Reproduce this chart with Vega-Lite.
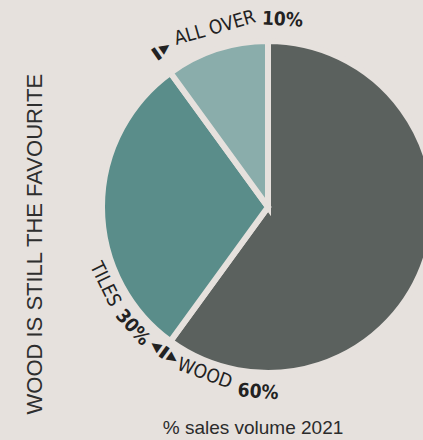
{
  "$schema": "https://vega.github.io/schema/vega-lite/v6.json",
  "autosize": "none",
  "width": 310,
  "height": 414,
  "padding": {"left": 113, "top": 0, "right": 0, "bottom": 26},
  "background": "#e6e1dd",
  "config": {"view": {"stroke": null}},
  "title": {"text": "% sales volume 2021", "orient": "bottom", "anchor": "middle", "dx": -15, "offset": 5, "font": "Liberation Sans", "fontSize": 19, "fontWeight": "normal", "color": "#2b2b2b"},
  "data": {"values": [
    {"name": "WOOD", "share": 0.6},
    {"name": "TILES", "share": 0.3},
    {"name": "ALL OVER", "share": 0.1}
  ]},
  "transform": [{"stack": "share", "groupby": [], "sort": [{"field": "share", "order": "descending"}], "as": ["t0", "t1"]}],
  "layer": [
    {
      "mark": {"type": "point", "opacity": 0},
      "encoding": {
        "y": {"field": "share", "type": "quantitative", "title": "WOOD IS STILL THE FAVOURITE",
          "axis": {"labels": false, "ticks": false, "domain": false, "grid": false, "titlePadding": 67, "titleAnchor": "start", "titleFont": "Liberation Sans", "titleFontSize": 22, "titleFontWeight": "normal", "titleColor": "#2e2e2e"}}
      }
    },
    {
      "mark": {"type": "arc", "outerRadius": 166, "stroke": "#e6e1dd", "strokeWidth": 6},
      "encoding": {
        "theta": {"field": "t0", "type": "quantitative", "stack": null, "scale": {"domain": [0, 1]}},
        "theta2": {"field": "t1"},
        "color": {"field": "name", "type": "nominal", "legend": null,
          "scale": {"domain": ["WOOD", "TILES", "ALL OVER"], "range": ["#5b615e", "#5a8d8a", "#8aadab"]}}
      }
    },
    {
      "transform": [{"filter": "datum.name == 'ALL OVER'"}],
      "mark": {"type": "text", "radius": 190, "thetaOffset": 0.026, "angle": 325, "font": "DejaVu Sans", "fontSize": 13, "fontWeight": "bold", "color": "#222222"},
      "encoding": {"theta": {"field": "t0", "type": "quantitative", "stack": null}, "text": {"value": "❚▶"}}
    },
    {
      "transform": [{"filter": "datum.name == 'ALL OVER'"}],
      "mark": {"type": "text", "radius": 187, "thetaOffset": 0.34, "angle": 344, "font": "DejaVu Sans Condensed, Roboto", "fontSize": 19, "color": "#222222"},
      "encoding": {"theta": {"field": "t0", "type": "quantitative", "stack": null}, "text": {"field": "name"}}
    },
    {
      "transform": [{"filter": "datum.name == 'ALL OVER'"}],
      "mark": {"type": "text", "radius": 188, "thetaOffset": 0.705, "angle": 3, "font": "DejaVu Sans Condensed, Roboto", "fontSize": 19, "fontWeight": "bold", "color": "#222222"},
      "encoding": {"theta": {"field": "t0", "type": "quantitative", "stack": null}, "text": {"field": "share", "format": ".0%"}}
    },
    {
      "transform": [{"filter": "datum.name == 'TILES'"}],
      "mark": {"type": "text", "radius": 180, "thetaOffset": 0.5, "angle": 64, "font": "DejaVu Sans Condensed, Roboto", "fontSize": 19, "color": "#222222"},
      "encoding": {"theta": {"field": "t0", "type": "quantitative", "stack": null}, "text": {"field": "name"}}
    },
    {
      "transform": [{"filter": "datum.name == 'TILES'"}],
      "mark": {"type": "text", "radius": 181, "thetaOffset": 0.215, "angle": 48, "font": "DejaVu Sans Condensed, Roboto", "fontSize": 19, "fontWeight": "bold", "color": "#222222"},
      "encoding": {"theta": {"field": "t0", "type": "quantitative", "stack": null}, "text": {"field": "share", "format": ".0%"}}
    },
    {
      "transform": [{"filter": "datum.name == 'TILES'"}],
      "mark": {"type": "text", "radius": 178, "thetaOffset": -0.007, "angle": 36, "font": "DejaVu Sans", "fontSize": 13, "fontWeight": "bold", "color": "#222222"},
      "encoding": {"theta": {"field": "t0", "type": "quantitative", "stack": null}, "text": {"value": "◀❚▶"}}
    },
    {
      "transform": [{"filter": "datum.name == 'WOOD'"}],
      "mark": {"type": "text", "radius": 178, "thetaOffset": -0.265, "angle": 20, "font": "DejaVu Sans Condensed, Roboto", "fontSize": 19, "color": "#222222"},
      "encoding": {"theta": {"field": "t1", "type": "quantitative", "stack": null}, "text": {"field": "name"}}
    },
    {
      "transform": [{"filter": "datum.name == 'WOOD'"}],
      "mark": {"type": "text", "radius": 185, "thetaOffset": -0.575, "angle": 4, "font": "DejaVu Sans Condensed, Roboto", "fontSize": 19, "fontWeight": "bold", "color": "#222222"},
      "encoding": {"theta": {"field": "t1", "type": "quantitative", "stack": null}, "text": {"field": "share", "format": ".0%"}}
    }
  ]
}
